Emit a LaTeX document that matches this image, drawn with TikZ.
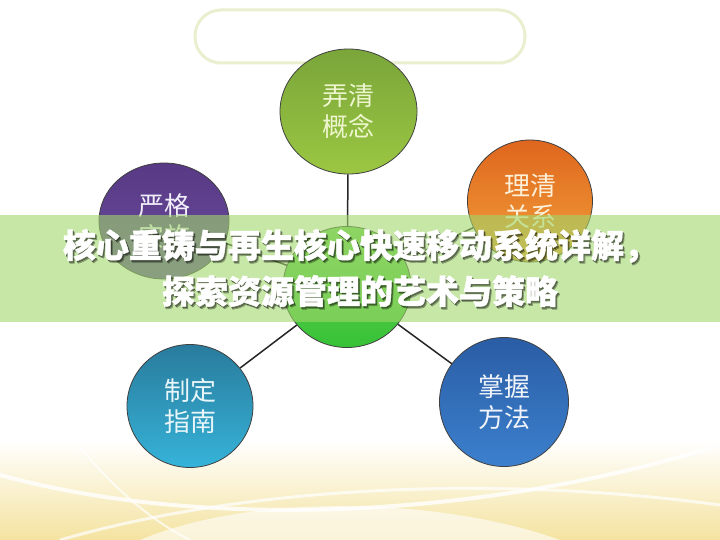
\documentclass[tikz,border=0pt]{standalone}
\usepackage{fontspec}
\newfontfamily\cjk{Noto Sans CJK SC}
\newfontfamily\cjkh{Noto Sans CJK SC}[BoldFeatures={FakeBold=1.3}]
\usetikzlibrary{shapes.geometric}
\definecolor{hdrline}{HTML}{E9EFCF}
\definecolor{bandc}{HTML}{A0D76B}
\definecolor{yel}{HTML}{F4E3A0}
\definecolor{g1t}{HTML}{7AA53A}\definecolor{g1b}{HTML}{9BC742}\definecolor{g1x}{HTML}{EEF6CF}
\definecolor{p1t}{HTML}{573985}\definecolor{p1b}{HTML}{6B4D9E}\definecolor{p1x}{HTML}{F3EFFA}
\definecolor{o1t}{HTML}{DF651E}\definecolor{o1b}{HTML}{F2A23A}\definecolor{o1x}{HTML}{FDF0D8}
\definecolor{t1t}{HTML}{297B9C}\definecolor{t1b}{HTML}{36B3D9}\definecolor{t1x}{HTML}{E8F6FA}
\definecolor{b1t}{HTML}{2A5DA5}\definecolor{b1b}{HTML}{3C80CD}\definecolor{b1x}{HTML}{F0F4FA}
\definecolor{c0t}{HTML}{72D158}\definecolor{c0b}{HTML}{36C236}
\begin{document}
\begin{tikzpicture}[x=1pt,y=-1pt,
  bub/.style={ellipse, draw=black!75, line width=0.8pt, inner sep=0pt, align=center,
    font=\cjk\fontsize{26}{31}\selectfont},
  conn/.style={draw=black!85, line width=1.5pt},
  ttl/.style={align=center, font=\cjkh\bfseries\fontsize{33}{46}\selectfont}]
\useasboundingbox (0,0) rectangle (720,540);
\fill[white] (0,0) rectangle (720,540);
% soft yellow background at the bottom
\shade[top color=white, bottom color=yel] (0,440) rectangle (720,540);
\fill[white, opacity=0.6] (140,540) .. controls (260,490) and (450,500) .. (560,540) -- cycle;
\draw[white, line width=4pt, opacity=0.8] (0,475) .. controls (200,530) and (480,520) .. (720,445);
\draw[white, line width=3pt, opacity=0.7] (60,540) .. controls (250,485) and (500,475) .. (720,505);
\draw[white, line width=2pt, opacity=0.7] (0,350) .. controls (60,420) and (110,500) .. (190,540);
% header box
\node[draw=hdrline, line width=3pt, rounded corners=26pt, fill=white,
      minimum width=330pt, minimum height=53pt] (hdr) at (360,36.5) {};
% circles
\node[bub, minimum width=137pt, minimum height=125pt, top color=g1t, bottom color=g1b, text=g1x]
  (c1) at (348.5,111.5) {弄清\\概念};
\node[bub, minimum width=130pt, minimum height=116pt, top color=p1t, bottom color=p1b, text=p1x]
  (c2) at (164,221) {严格\\实施};
\node[bub, minimum width=125pt, minimum height=122pt, top color=o1t, bottom color=o1b, text=o1x]
  (c3) at (530,201) {理清\\关系};
\node[bub, minimum width=128pt, minimum height=121pt, top color=c0t, bottom color=c0b]
  (c0) at (347,287) {};
\node[bub, minimum width=126pt, minimum height=123pt, top color=t1t, bottom color=t1b, text=t1x]
  (c4) at (190,406) {制定\\指南};
\node[bub, minimum width=129pt, minimum height=129pt, top color=b1t, bottom color=b1b, text=b1x]
  (c5) at (504,402) {掌握\\方法};
% connectors
\draw[conn] (c1) -- (c0);
\draw[conn] (c2) -- (c0);
\draw[conn] (c3) -- (c0);
\draw[conn] (c4) -- (c0);
\draw[conn] (c5) -- (c0);
% translucent title band
\fill[bandc, opacity=0.6] (0,215) rectangle (720,322);
% title with soft shadow
\node[ttl, text=black, opacity=0.25] (ts1) at (362,270.5) {核心重铸与再生核心快速移动系统详解，\\探索资源管理的艺术与策略};
\node[ttl, text=black, opacity=0.35] (ts2) at (361.2,269.5) {核心重铸与再生核心快速移动系统详解，\\探索资源管理的艺术与策略};
\node[ttl, text=white] (title) at (360,268) {核心重铸与再生核心快速移动系统详解，\\探索资源管理的艺术与策略};
\end{tikzpicture}
\end{document}
